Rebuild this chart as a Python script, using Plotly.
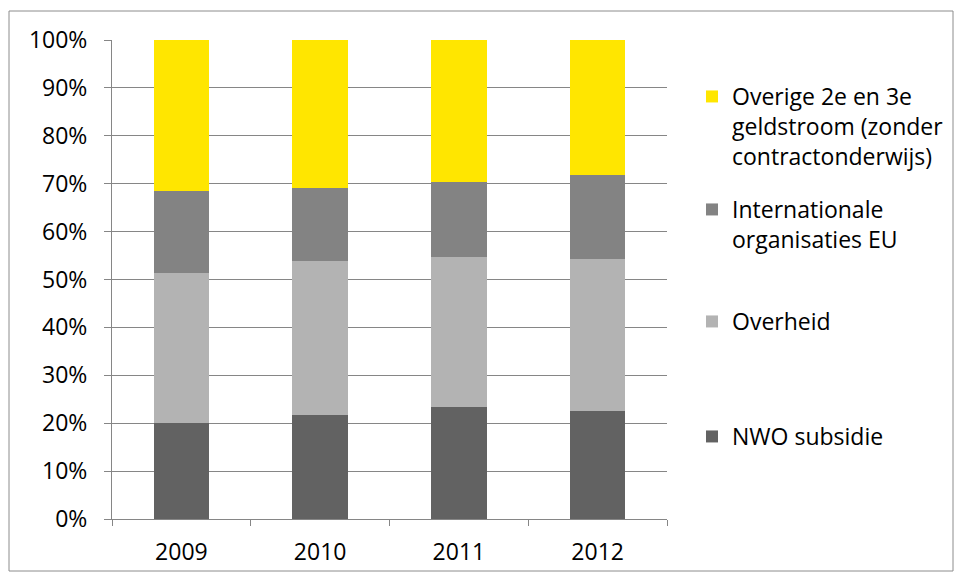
import plotly.graph_objects as go

years = ["2009", "2010", "2011", "2012"]
nwo = [20.0, 21.7, 23.3, 22.5]
overheid = [31.4, 32.2, 31.3, 31.8]
internationaal = [17.1, 15.3, 15.8, 17.5]
overige = [31.5, 30.8, 29.6, 28.2]

names = ["NWO subsidie", "Overheid", "Internationale<br>organisaties EU",
         "Overige 2e en 3e<br>geldstroom (zonder<br>contractonderwijs)"]
colors = ["#626262", "#B3B3B3", "#838383", "#FFE600"]
series = [nwo, overheid, internationaal, overige]
legend_ids = ["legend4", "legend3", "legend2", "legend"]

# figure is placed at (8, 8) in the page by the default body margin
W, H = 946, 564
L, T = 104, 32
PR, PB = 659, 511
R, B = W - PR, H - PB
FONT = "Open Sans"
FS = 23

fig = go.Figure()
for nm, col, vals, lg in zip(names, colors, series, legend_ids):
    fig.add_trace(go.Bar(x=years, y=[v / 100 for v in vals], name=nm,
                         marker=dict(color=col, line=dict(width=0)),
                         legend=lg, showlegend=True))

pw, ph = W - L - R, H - T - B
def px_x(p): return (p - L) / pw
def px_y(p): return 1 - (p - T) / ph

legend_common = dict(font=dict(family=FONT, size=FS, color="#000"),
                     xref="container", yref="container", xanchor="left",
                     yanchor="top", bgcolor="rgba(0,0,0,0)", valign="top",
                     itemwidth=30)
leg_tops = {"legend": 67, "legend2": 180, "legend3": 292, "legend4": 407}
layout_legends = {}
for k, top in leg_tops.items():
    layout_legends[k] = dict(legend_common, x=684 / W, y=1 - top / H)

fig.update_layout(
    width=W, height=H,
    margin=dict(l=L, r=R, t=T, b=B, autoexpand=False),
    barmode="stack", bargap=0.6, showlegend=True,
    plot_bgcolor="white", paper_bgcolor="white",
    font=dict(family=FONT, size=FS, color="#000"),
    xaxis=dict(type="category", tickson="boundaries", ticks="outside",
               ticklen=6, tickcolor="#868686", showline=True,
               linecolor="#868686", linewidth=1, showgrid=False,
               range=[-0.5, 3.5], ticklabelstandoff=12, automargin=False,
               tickfont=dict(family=FONT, size=FS)),
    yaxis=dict(range=[0, 1], tickvals=[i / 10 for i in range(11)],
               tickformat=".0%", ticks="outside", ticklen=7,
               tickcolor="#868686", showline=True, linecolor="#868686",
               linewidth=1, showgrid=True, gridcolor="#868686", gridwidth=1,
               zeroline=False, ticklabelstandoff=12, automargin=False,
               tickfont=dict(family=FONT, size=FS)),
    shapes=[dict(type="rect", xref="paper", yref="paper",
                 x0=px_x(1), x1=px_x(945), y0=px_y(563), y1=px_y(3),
                 line=dict(color="#8C8C8C", width=1), layer="below")],
    **layout_legends,
)

fig.write_html("out.html")
